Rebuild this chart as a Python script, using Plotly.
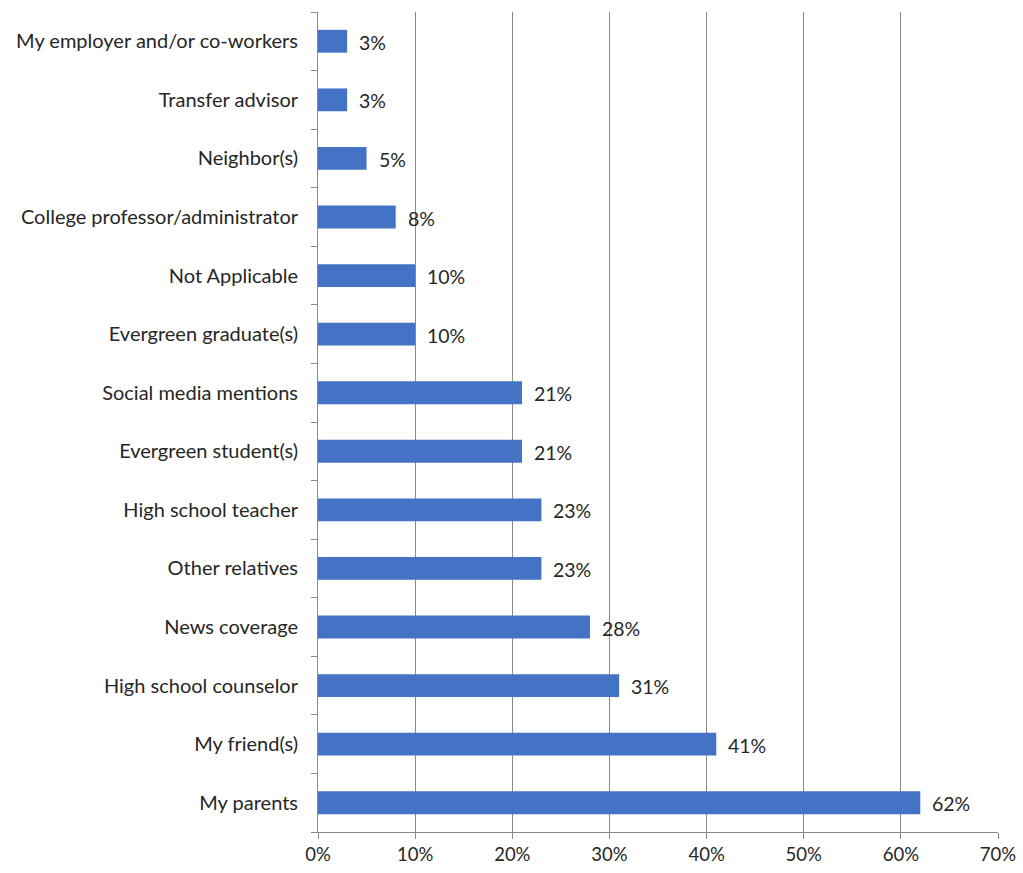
import plotly.graph_objects as go

# Survey: sources that influenced the decision (share of respondents)
categories = [
    "My parents",
    "My friend(s)",
    "High school counselor",
    "News coverage",
    "Other relatives",
    "High school teacher",
    "Evergreen student(s)",
    "Social media mentions",
    "Evergreen graduate(s)",
    "Not Applicable",
    "College professor/administrator",
    "Neighbor(s)",
    "Transfer advisor",
    "My employer and/or co-workers",
]
shares = [0.62, 0.41, 0.31, 0.28, 0.23, 0.23, 0.21, 0.21, 0.10, 0.10, 0.08, 0.05, 0.03, 0.03]
x_ticks = [0, 0.1, 0.2, 0.3, 0.4, 0.5, 0.6, 0.7]
x_tick_labels = ["0%", "10%", "20%", "30%", "40%", "50%", "60%", "70%"]

FONT = "Lato, Carlito, 'Open Sans', sans-serif"
TEXT = "#262626"
BAR = "#4472C4"
GRID = "#8a8a8a"

fig = go.Figure(
    go.Bar(
        x=shares,
        y=categories,
        orientation="h",
        marker=dict(color=BAR, line=dict(width=0)),
        width=0.39,
        hoverinfo="skip",
    )
)

# value labels just past each bar end
for cat, val in zip(categories, shares):
    fig.add_annotation(
        x=val, y=cat, text=f"{val*100:.0f}%", showarrow=False,
        xanchor="left", xshift=10, yshift=-1,
        font=dict(family=FONT, size=19.5, color=TEXT),
    )

fig.update_layout(
    width=1023,
    height=873,
    margin=dict(l=318, r=25, t=12, b=41),
    paper_bgcolor="white",
    plot_bgcolor="white",
    showlegend=False,
    font=dict(family=FONT, size=20, color=TEXT),
    bargap=0.61,
)

fig.update_xaxes(
    range=[0, 0.7],
    tickvals=x_ticks,
    ticktext=x_tick_labels,
    showgrid=True,
    gridcolor=GRID,
    gridwidth=1,
    zeroline=False,
    showline=True,
    linecolor=GRID,
    linewidth=1,
    ticks="outside",
    ticklen=6,
    tickcolor=GRID,
    tickfont=dict(family=FONT, size=18.5, color=TEXT),
    automargin=False,
    fixedrange=True,
)

fig.update_yaxes(
    categoryorder="array",
    categoryarray=categories,
    showgrid=False,
    showline=True,
    linecolor=GRID,
    linewidth=1,
    ticks="outside",
    tickson="boundaries",
    ticklen=6,
    tickcolor=GRID,
    ticklabelstandoff=15,
    tickfont=dict(family=FONT, size=20, color=TEXT),
    automargin=False,
    fixedrange=True,
)

fig.write_html("out.html")
